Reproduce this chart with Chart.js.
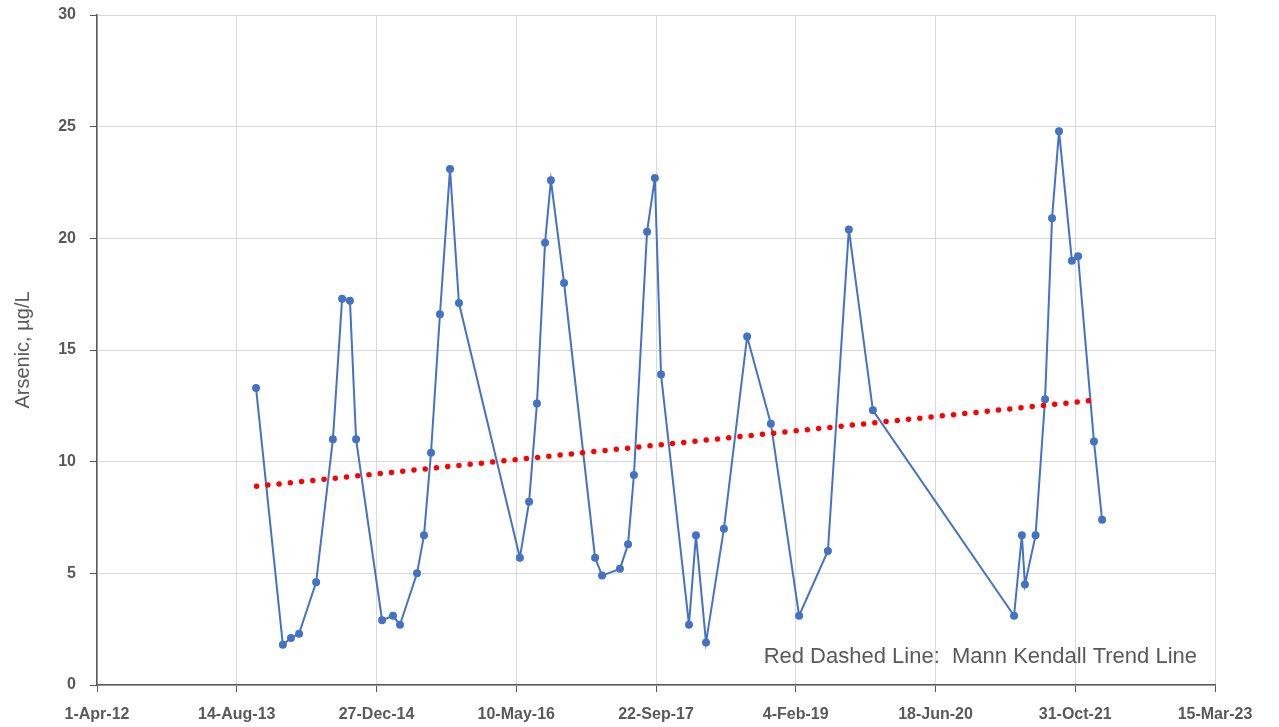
<!DOCTYPE html>
<html>
<head>
<meta charset="utf-8">
<script src="https://cdn.jsdelivr.net/npm/chart.js@4"></script>
<style>
  html, body { margin: 0; padding: 0; background: #fff; }
  #wrap { width: 1279px; height: 727px; }
</style>
</head>
<body>
<div id="wrap"><canvas id="chart"></canvas></div>
<script>
// dates are stored as days after 1-Apr-12 (the first x tick)
const startDate = Date.UTC(2012, 3, 1);
const sampleDays = [569, 665, 694, 723, 784, 844, 877, 905, 927, 1020, 1059, 1084, 1145, 1170, 1195, 1227, 1263, 1295,
  1513, 1546, 1574, 1603, 1624, 1671, 1782, 1807, 1871, 1900, 1921, 1968, 1996, 2018, 2118, 2143, 2179, 2243, 2326, 2411,
  2512, 2615, 2690, 2776, 3281, 3309, 3320, 3358, 3392, 3417, 3442, 3488, 3510, 3567, 3596];
const arsenic = [13.3, 1.8, 2.1, 2.3, 4.6, 11.0, 17.3, 17.2, 11.0, 2.9, 3.1, 2.7, 5.0, 6.7, 10.4, 16.6, 23.1, 17.1,
  5.7, 8.2, 12.6, 19.8, 22.6, 18.0, 5.7, 4.9, 5.2, 6.3, 9.4, 20.3, 22.7, 13.9, 2.7, 6.7, 1.9, 7.0, 15.6, 11.7,
  3.1, 6.0, 20.4, 12.3, 3.1, 6.7, 4.5, 6.7, 12.8, 20.9, 24.8, 19.0, 19.2, 10.9, 7.4];
const trendDays = [571, 3568];
const trendValues = [8.9, 12.75];

const months = ['Jan', 'Feb', 'Mar', 'Apr', 'May', 'Jun', 'Jul', 'Aug', 'Sep', 'Oct', 'Nov', 'Dec'];
function fmtDate(days) {
  const d = new Date(startDate + days * 86400000);
  return d.getUTCDate() + '-' + months[d.getUTCMonth()] + '-' + String(d.getUTCFullYear()).slice(2);
}

const grey = '#595959';
const family = '"Liberation Sans", Arial, sans-serif';
const tickFont = { family: family, size: 16, weight: 'bold' };

// note text inside the plot
const notePlugin = {
  id: 'note',
  afterDraw(chart) {
    const ctx = chart.ctx;
    ctx.save();
    ctx.font = '22px ' + family;
    ctx.fillStyle = grey;
    ctx.textAlign = 'right';
    ctx.textBaseline = 'alphabetic';
    ctx.fillText('Red Dashed Line:  Mann Kendall Trend Line', 1197, 663);
    ctx.restore();
  }
};

new Chart(document.getElementById('chart'), {
  type: 'line',
  data: {
    datasets: [{
      label: 'Arsenic',
      data: sampleDays.map((d, i) => ({ x: d, y: arsenic[i] })),
      borderColor: '#4472C4',
      backgroundColor: '#4472C4',
      borderWidth: 2,
      pointRadius: 3,
      pointHoverRadius: 3,
      tension: 0,
      order: 2
    }, {
      label: 'Trend',
      data: trendDays.map((d, i) => ({ x: d, y: trendValues[i] })),
      borderColor: '#FF0000',
      borderWidth: 5.5,
      borderDash: [0, 11.3],
      borderCapStyle: 'round',
      pointRadius: 0,
      tension: 0,
      order: 1
    }]
  },
  options: {
    responsive: true,
    maintainAspectRatio: false,
    animation: false,
    layout: { padding: { top: 15, right: 64, left: 0, bottom: 0 } },
    plugins: { legend: { display: false }, tooltip: { enabled: false } },
    scales: {
      x: {
        type: 'linear',
        min: 0,
        max: 4000,
        afterFit: s => { s.height = 42; },
        ticks: {
          stepSize: 500,
          color: grey,
          font: tickFont,
          maxRotation: 0,
          padding: 13,
          callback: v => fmtDate(v)
        },
        grid: { color: '#d9d9d9', lineWidth: 1, tickLength: 7, tickColor: grey },
        border: { color: grey, width: 1.5 }
      },
      y: {
        min: 0,
        max: 30,
        afterFit: s => { s.width = 97; s.paddingTop = 0; s.paddingBottom = 0; },
        ticks: { stepSize: 5, color: grey, font: tickFont, padding: 14 },
        grid: { color: '#d9d9d9', lineWidth: 1, tickLength: 7, tickColor: grey },
        border: { color: grey, width: 1.5 },
        title: {
          display: true,
          text: 'Arsenic, µg/L',
          color: grey,
          font: { family: family, size: 20 },
          padding: { top: 11, bottom: 0 }
        }
      }
    }
  },
  plugins: [notePlugin]
});
</script>
</body>
</html>
